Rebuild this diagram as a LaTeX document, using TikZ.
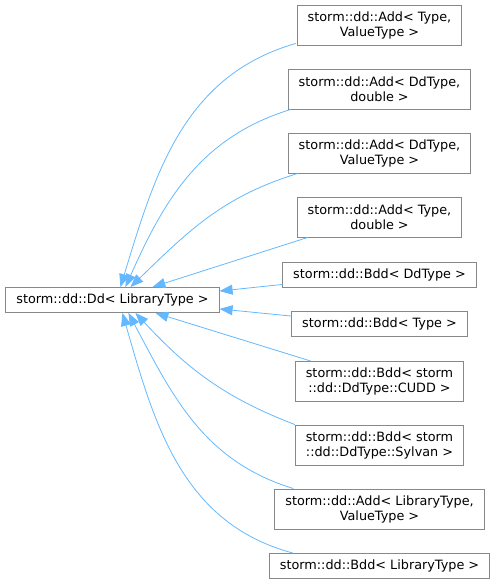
\documentclass[tikz,border=0pt]{standalone}
\usepackage{fontspec}
\setmainfont{DejaVu Sans}
\usetikzlibrary{arrows.meta,positioning}
\definecolor{edgeblue}{HTML}{63B8FF}
\definecolor{boxgray}{HTML}{888888}

\begin{document}
\begin{tikzpicture}[
    x=1pt, y=1pt,
    box/.style={rectangle, draw=boxgray, line width=0.9pt, fill=white, align=center,
        inner xsep=10.5pt, inner ysep=2pt, minimum height=25pt,
        font=\fontsize{12.8}{15}\selectfont},
    tallbox/.style={box, minimum height=40pt},
    arrow/.style={-{Triangle[length=13pt,width=10pt]}, draw=edgeblue, line width=0.8pt}
]
    \useasboundingbox (0,0) rectangle (496,-585);

    \node[box] (dd) at (112.5,-300) {storm::dd::Dd< LibraryType >};

    \node[tallbox] (addtv) at (379.5,-25) {storm::dd::Add< Type,\\ValueType >};
    \node[tallbox] (adddd) at (379.5,-89) {storm::dd::Add< DdType,\\double >};
    \node[tallbox] (adddv) at (379.5,-153) {storm::dd::Add< DdType,\\ValueType >};
    \node[tallbox] (addtd) at (379.5,-217) {storm::dd::Add< Type,\\double >};
    \node[box] (bdddd) at (379.5,-274.5) {storm::dd::Bdd< DdType >};
    \node[box] (bddt) at (379.5,-324) {storm::dd::Bdd< Type >};
    \node[tallbox] (bddcudd) at (379.5,-381.5) {storm::dd::Bdd< storm\\::dd::DdType::CUDD >};
    \node[tallbox] (bddsyl) at (379.5,-445) {storm::dd::Bdd< storm\\::dd::DdType::Sylvan >};
    \node[tallbox] (addlib) at (379.5,-509) {storm::dd::Add< LibraryType,\\ValueType >};
    \node[box] (bddlib) at (379.5,-566) {storm::dd::Bdd< LibraryType >};

    \draw[arrow] ([xshift=-1pt,yshift=2pt]addtv.south west) to[out=196, in=73] ([xshift=115pt]dd.north west);
    \draw[arrow] ([xshift=3pt]adddd.south west) to[out=197, in=66] ([xshift=120pt]dd.north west);
    \draw[arrow] ([xshift=10pt]adddv.south west) to[out=197, in=44] ([xshift=125pt]dd.north west);
    \draw[arrow] ([xshift=11pt]addtd.south west) -- ([xshift=147pt]dd.north west);
    \draw[arrow] ([yshift=3pt]bdddd.south west) -- ([yshift=-4pt]dd.north east);
    \draw[arrow] ([yshift=-5pt]bddt.north west) -- ([yshift=4pt]dd.south east);
    \draw[arrow] ([xshift=16pt]bddcudd.north west) -- ([xshift=150pt]dd.south west);
    \draw[arrow] (bddsyl.north west) to[out=159, in=313] ([xshift=130pt]dd.south west);
    \draw[arrow] ([xshift=19pt]addlib.north west) to[out=163, in=298] ([xshift=123pt]dd.south west);
    \draw[arrow] ([xshift=24pt]bddlib.north west) to[out=165, in=286] ([xshift=117pt]dd.south west);
\end{tikzpicture}
\end{document}
